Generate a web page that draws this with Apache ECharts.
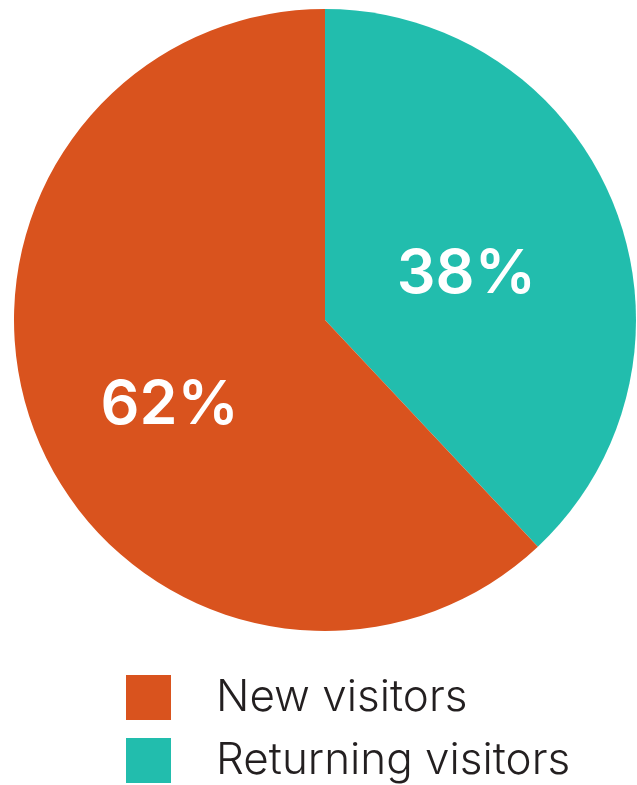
<!DOCTYPE html>
<html>
<head>
<meta charset="utf-8">
<script src="https://cdn.jsdelivr.net/npm/echarts@6/dist/echarts.min.js"></script>
<style>
html,body{margin:0;padding:0;background:#fff;}
#chart{width:637px;height:785px;}
</style>
</head>
<body>
<div id="chart"></div>
<script>
const categories = ['Returning visitors', 'New visitors'];
const values = [38, 62];
const legendOrder = ['New visitors', 'Returning visitors'];
const colors = {'Returning visitors': '#22BDAD', 'New visitors': '#D9531E'};
const labelShift = {'Returning visitors': [-6, 13], 'New visitors': [-8, 27]};

const chart = echarts.init(document.getElementById('chart'));
chart.setOption({
  animation: false,
  legend: {
    data: legendOrder,
    orient: 'vertical',
    left: 126,
    top: 675,
    padding: 0,
    itemWidth: 45,
    itemHeight: 45,
    itemGap: 18,
    icon: 'rect',
    selectedMode: false,
    textStyle: {
      fontFamily: 'Inter',
      fontWeight: 300,
      fontSize: 44,
      color: '#231F20',
      padding: [0, 0, 0, 40]
    }
  },
  series: [{
    type: 'pie',
    center: [325, 320],
    radius: 311,
    startAngle: 90,
    clockwise: true,
    silent: true,
    data: categories.map((c, i) => ({
      name: c,
      value: values[i],
      itemStyle: {color: colors[c]}
    })),
    label: {
      show: true,
      position: 'inside',
      formatter: '{c}%',
      color: '#fff',
      fontFamily: 'Inter',
      fontWeight: 600,
      fontSize: 61
    },
    labelLine: {show: false},
    labelLayout: function (p) {
      const s = labelShift[categories[p.dataIndex]];
      return {dx: s[0], dy: s[1]};
    }
  }]
});
</script>
</body>
</html>
